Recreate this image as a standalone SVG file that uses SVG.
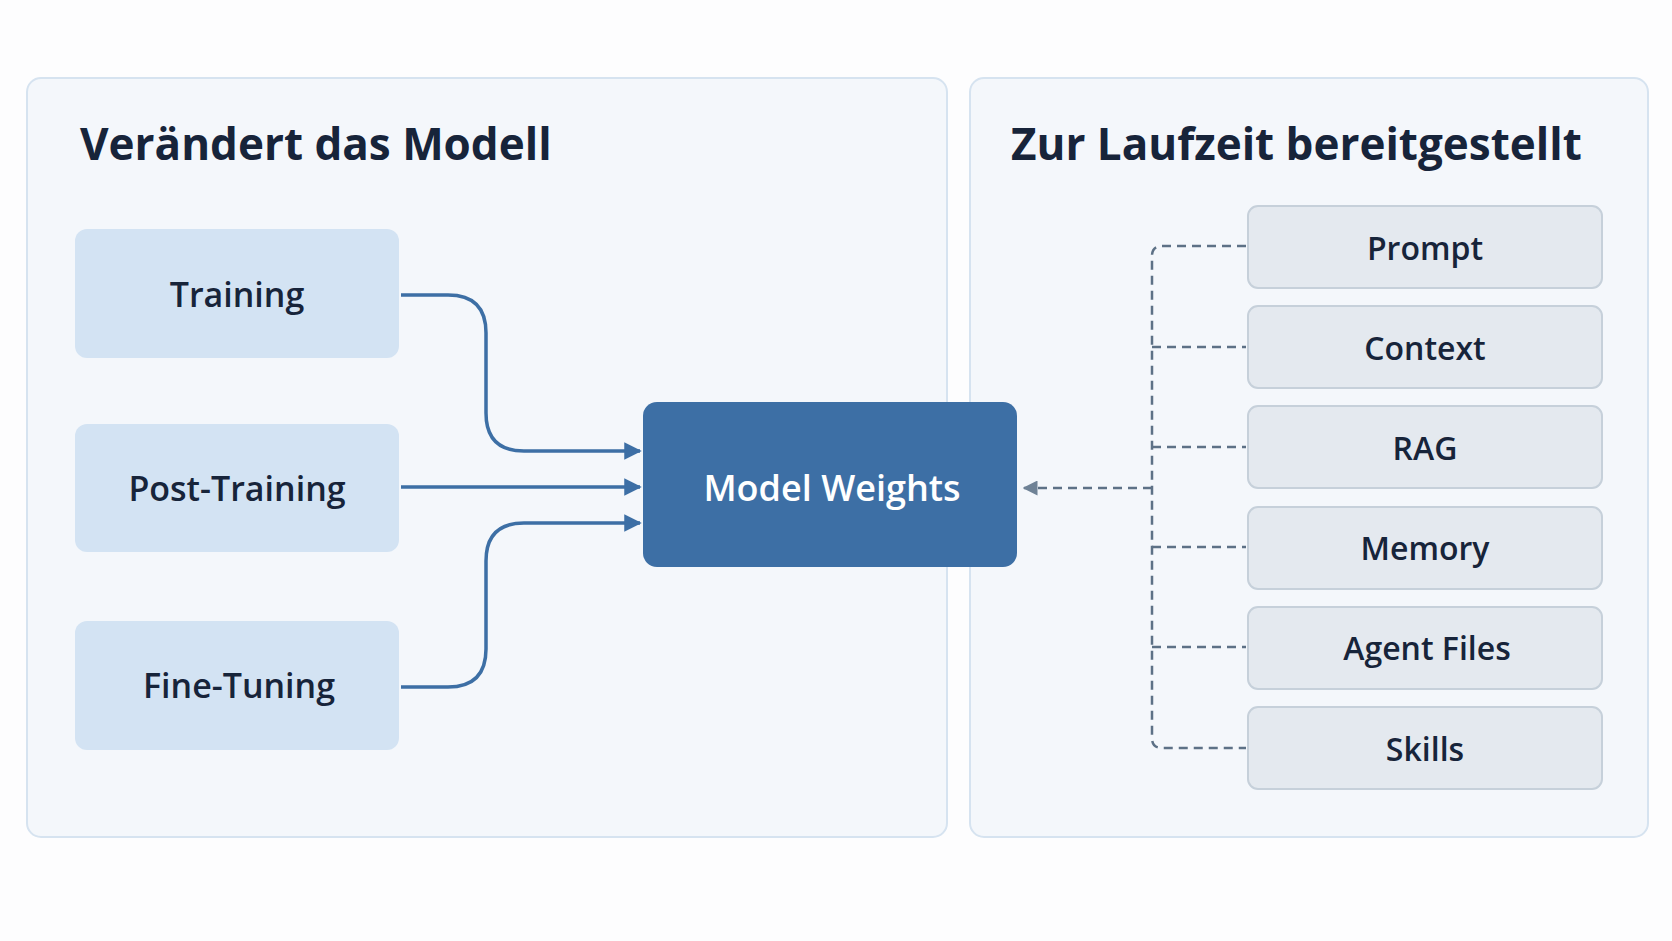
<svg xmlns="http://www.w3.org/2000/svg" width="1672" height="941" viewBox="0 0 1672 941">
<defs>
<marker id="ah" viewBox="0 0 10 10" refX="9" refY="5" markerWidth="5" markerHeight="5" orient="auto" markerUnits="strokeWidth"><path d="M0,0 L10,5 L0,10 z" fill="#3d6fa5"/></marker>
<marker id="ahg" viewBox="0 0 10 10" refX="9" refY="5" markerWidth="6" markerHeight="6" orient="auto" markerUnits="strokeWidth"><path d="M0,0 L10,5 L0,10 z" fill="#6f8296"/></marker>
</defs>
<style>
text{font-family:"Open Sans","Noto Sans",sans-serif;font-weight:600;text-anchor:middle;dominant-baseline:central}
.title{font-size:44px;fill:#17243a;text-anchor:start;font-weight:700}
.panel{fill:#f4f7fb;stroke:#d6e3f0;stroke-width:2}
.lb{fill:#d3e3f3}
.lt{font-size:34px;fill:#17243a}
.rb{fill:#e4e9ef;stroke:#c6d0da;stroke-width:2}
.rt{font-size:32px;fill:#17243a}
.c{fill:none;stroke:#3d6fa5;stroke-width:3.5;marker-end:url(#ah)}
.d{fill:none;stroke:#5d7186;stroke-width:2.5;stroke-dasharray:9 6}
</style>
<rect width="1672" height="941" fill="#fdfdfe"/>
<g id="panel-left"><rect class="panel" x="27" y="78" width="920" height="759" rx="14"/><text class="title" x="80" y="143">Verändert das Modell</text></g>
<g id="panel-right"><rect class="panel" x="970" y="78" width="678" height="759" rx="14"/><text class="title" x="1011" y="143">Zur Laufzeit bereitgestellt</text></g>
<g id="training"><rect class="lb" x="75" y="229" width="324" height="129" rx="12"/><text class="lt" x="237" y="294">Training</text></g>
<g id="post-training"><rect class="lb" x="75" y="424" width="324" height="128" rx="12"/><text class="lt" x="237" y="488">Post-Training</text></g>
<g id="fine-tuning"><rect class="lb" x="75" y="621" width="324" height="129" rx="12"/><text class="lt" x="239" y="685">Fine-Tuning</text></g>
<g id="model-weights"><rect x="643" y="402" width="374" height="165" rx="14" fill="#3d6fa5"/><text x="832" y="487" font-size="36" fill="#ffffff">Model Weights</text></g>
<g id="prompt"><rect class="rb" x="1248" y="206" width="354" height="82" rx="10"/><text class="rt" x="1425" y="247">Prompt</text></g>
<g id="context"><rect class="rb" x="1248" y="306" width="354" height="82" rx="10"/><text class="rt" x="1425" y="347">Context</text></g>
<g id="rag"><rect class="rb" x="1248" y="406" width="354" height="82" rx="10"/><text class="rt" x="1425" y="447">RAG</text></g>
<g id="memory"><rect class="rb" x="1248" y="507" width="354" height="82" rx="10"/><text class="rt" x="1425" y="547">Memory</text></g>
<g id="agent-files"><rect class="rb" x="1248" y="607" width="354" height="82" rx="10"/><text class="rt" x="1427" y="647">Agent Files</text></g>
<g id="skills"><rect class="rb" x="1248" y="707" width="354" height="82" rx="10"/><text class="rt" x="1425" y="748">Skills</text></g>
<g id="connectors">
<path class="c" d="M401,295 H448 Q486,295 486,333 V413 Q486,451 524,451 H640"/>
<path class="c" d="M401,487 H640"/>
<path class="c" d="M401,687 H448 Q486,687 486,649 V561 Q486,523 524,523 H640"/>
<path class="d" d="M1246,246 H1162 Q1152,246 1152,256 V738 Q1152,748 1162,748 H1246"/>
<path class="d" d="M1152,347 H1246 M1152,447 H1246 M1152,547 H1246 M1152,647 H1246"/>
<path class="d" d="M1152,488 H1024" marker-end="url(#ahg)"/>
</g>
</svg>
